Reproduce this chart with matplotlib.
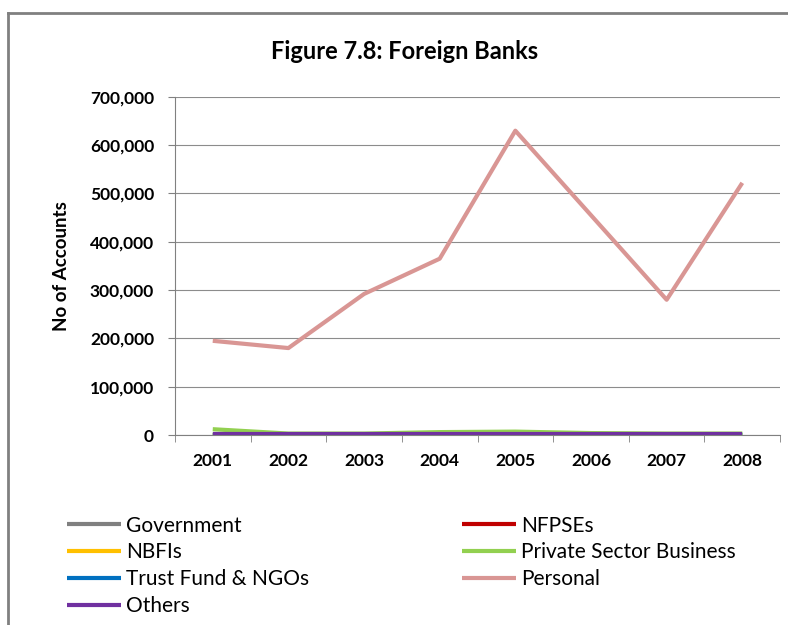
import matplotlib
matplotlib.use("Agg")
import matplotlib.pyplot as plt
from matplotlib.lines import Line2D
from matplotlib.ticker import FuncFormatter

plt.rcParams['font.family'] = ['Lato', 'DejaVu Sans']

years = ['2001', '2002', '2003', '2004', '2005', '2006', '2007', '2008']
government = [500, 400, 400, 400, 400, 400, 400, 400]
nfpses = [300, 300, 300, 300, 300, 300, 300, 300]
nbfis = [600, 500, 500, 500, 500, 500, 500, 500]
private_sector = [12000, 3000, 3000, 6000, 7000, 4000, 3000, 3000]
trust_ngos = [800, 700, 700, 700, 700, 700, 700, 700]
personal = [195000, 180000, 292000, 365000, 630000, 455000, 280000, 522000]
others = [2000, 2000, 2000, 2000, 2000, 2000, 2000, 2000]

series = [
    ('Government', government, '#808080'),
    ('NFPSEs', nfpses, '#C00000'),
    ('NBFIs', nbfis, '#FFC000'),
    ('Private Sector Business', private_sector, '#92D050'),
    ('Trust Fund & NGOs', trust_ngos, '#0070C0'),
    ('Personal', personal, '#D99694'),
    ('Others', others, '#7030A0'),
]

fig = plt.figure(figsize=(7.88, 6.25), dpi=100)
ax = fig.add_axes([0.222, 0.304, 0.768, 0.541])

x = list(range(len(years)))
handles = {}
for name, vals, col in series:
    h, = ax.plot(x, vals, color=col, lw=3, solid_capstyle='butt', label=name)
    handles[name] = h

ax.set_xlim(-0.5, len(years) - 0.5)
ax.set_ylim(0, 700000)
ax.set_yticks(range(0, 700001, 100000))
ax.yaxis.set_major_formatter(FuncFormatter(lambda v, p: f'{int(v):,}'))
ax.set_xticks(x)
ax.set_xticklabels(years)
ax.set_xticks([i - 0.5 for i in range(len(years) + 1)], minor=True)
ax.tick_params(axis='x', which='major', length=0, pad=13, labelsize=12.5)
ax.tick_params(axis='x', which='minor', length=5, color='#808080')
ax.tick_params(axis='y', length=5, color='#808080', labelsize=12.5, pad=10)
for lbl in ax.get_xticklabels() + ax.get_yticklabels():
    lbl.set_fontweight('bold')
ax.grid(axis='y', color='#8c8c8c', lw=0.8)
ax.set_axisbelow(True)
for s in ['top', 'right']:
    ax.spines[s].set_visible(False)
for s in ['left', 'bottom']:
    ax.spines[s].set_color('#808080')
ax.set_ylabel('No of Accounts', fontsize=13.5, fontweight='bold', labelpad=14)

fig.text(0.513, 0.917, 'Figure 7.8: Foreign Banks', ha='center', va='center',
         fontsize=17, fontweight='bold')

order = ['Government', 'NBFIs', 'Trust Fund & NGOs', 'Others',
         'NFPSEs', 'Private Sector Business', 'Personal']
leg = fig.legend([handles[n] for n in order], order, ncol=2,
                 loc='upper left', bbox_to_anchor=(0.085, 0.175),
                 frameon=False, fontsize=15, handlelength=2.6,
                 handletextpad=0.25, columnspacing=7.3, labelspacing=0.33,
                 borderpad=0, borderaxespad=0)

# outer chart frame (cropped at right and bottom)
fig.add_artist(Line2D([8 / 788, 1], [1 - 13 / 625, 1 - 13 / 625],
                      color='#808080', lw=2, transform=fig.transFigure))
fig.add_artist(Line2D([8 / 788, 8 / 788], [0, 1 - 13 / 625],
                      color='#808080', lw=2, transform=fig.transFigure))

fig.savefig('out.png', dpi=100)
